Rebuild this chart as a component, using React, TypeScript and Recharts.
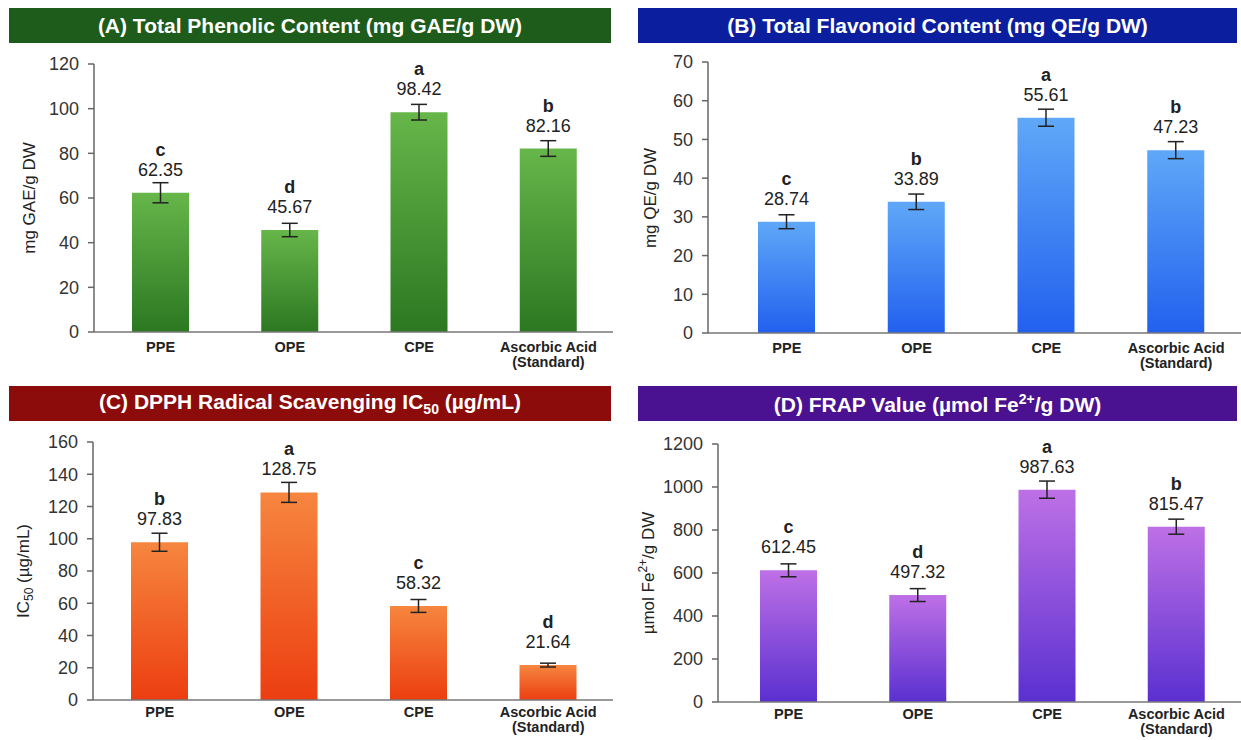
import React from "react";
import {
  BarChart,
  Bar,
  XAxis,
  YAxis,
  ErrorBar,
  LabelList,
} from "recharts";

const categories = ["PPE", "OPE", "CPE", "Ascorbic Acid\n(Standard)"];

const tpcValues = [62.35, 45.67, 98.42, 82.16];
const tpcErrors = [4.5, 3, 3.5, 3.5];
const tpcLetters = ["c", "d", "a", "b"];
const tpcTicks = [0, 20, 40, 60, 80, 100, 120];

const tfcValues = [28.74, 33.89, 55.61, 47.23];
const tfcErrors = [1.8, 2, 2.2, 2.2];
const tfcLetters = ["c", "b", "a", "b"];
const tfcTicks = [0, 10, 20, 30, 40, 50, 60, 70];

const dpphValues = [97.83, 128.75, 58.32, 21.64];
const dpphErrors = [5.6, 6.2, 4, 1.2];
const dpphLetters = ["b", "a", "c", "d"];
const dpphTicks = [0, 20, 40, 60, 80, 100, 120, 140, 160];

const frapValues = [612.45, 497.32, 987.63, 815.47];
const frapErrors = [30, 30, 40, 35];
const frapLetters = ["c", "d", "a", "b"];
const frapTicks = [0, 200, 400, 600, 800, 1000, 1200];

const FONT = '"Liberation Sans", Arial, sans-serif';

type Row = { name: string; value: number; err: number; letter: string };

function makeRows(values: number[], errors: number[], letters: string[]): Row[] {
  return categories.map((name, i) => ({
    name,
    value: values[i],
    err: errors[i],
    letter: letters[i],
  }));
}

function makeCategoryTick(firstDy: number) {
  return function CategoryTick(props: any) {
    const { x, y, payload } = props;
    const lines = String(payload.value).split("\n");
    return (
      <text
        x={x}
        y={y}
        textAnchor="middle"
        fontFamily={FONT}
        fontWeight="bold"
        fontSize={14.5}
        fill="#222"
      >
        {lines.map((line, i) => (
          <tspan key={i} x={x} dy={i === 0 ? firstDy : 15}>
            {line}
          </tspan>
        ))}
      </text>
    );
  };
}

function makeValueLabel(rows: Row[]) {
  return function ValueLabel(props: any) {
    const { x, y, width, index } = props;
    const row = rows[index];
    const cx = x + width / 2;
    return (
      <g>
        <text
          x={cx}
          y={y - 37}
          textAnchor="middle"
          fontFamily={FONT}
          fontWeight="bold"
          fontSize={18}
          fill="#222"
        >
          {row.letter}
        </text>
        <text
          x={cx}
          y={y - 17}
          textAnchor="middle"
          fontFamily={FONT}
          fontSize={18}
          fill="#222"
        >
          {row.value.toFixed(2)}
        </text>
      </g>
    );
  };
}

type PanelProps = {
  id: string;
  left: number;
  chartWidth: number;
  titleLeft: number;
  titleWidth: number;
  titleTop: number;
  titleBg: string;
  title: React.ReactNode;
  yLabel: React.ReactNode;
  yLabelX: number;
  yAxisWidth: number;
  plotTop: number;
  plotBottom: number;
  xAxisHeight: number;
  tickDy: number;
  padLeft: number;
  rows: Row[];
  ticks: number[];
  gradTop: string;
  gradBottom: string;
};

function Panel(p: PanelProps) {
  const chartTop = p.titleTop + 35;
  const marginTop = p.plotTop - chartTop;
  const chartHeight = marginTop + (p.plotBottom - p.plotTop) + p.xAxisHeight;
  const gradId = `grad-${p.id}`;
  const CategoryTick = makeCategoryTick(p.tickDy);
  return (
    <>
      <div
        style={{
          position: "absolute",
          left: p.titleLeft,
          top: p.titleTop,
          width: p.titleWidth,
          height: 35,
          background: p.titleBg,
          color: "white",
          fontFamily: FONT,
          fontWeight: "bold",
          fontSize: 21,
          display: "flex",
          alignItems: "center",
          justifyContent: "center",
          whiteSpace: "nowrap",
        }}
      >
        {p.title}
      </div>
      <div
        style={{
          position: "absolute",
          left: p.left + p.yLabelX,
          top: (p.plotTop + p.plotBottom) / 2,
          transform: "translate(-50%, -50%) rotate(-90deg)",
          fontFamily: FONT,
          fontSize: 17,
          color: "#222",
          whiteSpace: "nowrap",
        }}
      >
        {p.yLabel}
      </div>
      <div style={{ position: "absolute", left: p.left, top: chartTop }}>
        <BarChart
          width={p.chartWidth}
          height={chartHeight}
          data={p.rows}
          margin={{ top: marginTop, right: 0, bottom: 0, left: 0 }}
        >
          <defs>
            <linearGradient id={gradId} x1="0" y1="0" x2="0" y2="1">
              <stop offset="0%" stopColor={p.gradTop} />
              <stop offset="100%" stopColor={p.gradBottom} />
            </linearGradient>
          </defs>
          <XAxis
            dataKey="name"
            height={p.xAxisHeight}
            interval={0}
            tickLine={false}
            tickSize={0}
            tickMargin={0}
            padding={{ left: p.padLeft, right: 0 }}
            axisLine={{ stroke: "#777", strokeWidth: 1.5 }}
            tick={<CategoryTick />}
          />
          <YAxis
            width={p.yAxisWidth}
            domain={[0, p.ticks[p.ticks.length - 1]]}
            ticks={p.ticks}
            interval={0}
            tickSize={6}
            tickMargin={9}
            axisLine={{ stroke: "#666", strokeWidth: 1.5 }}
            tickLine={{ stroke: "#666", strokeWidth: 1.5 }}
            tick={{ fill: "#333", fontSize: 18, fontFamily: FONT }}
          />
          <Bar
            dataKey="value"
            barSize={57}
            fill={`url(#${gradId})`}
            isAnimationActive={false}
          >
            <ErrorBar
              dataKey="err"
              width={8}
              stroke="#222"
              strokeWidth={1.5}
              direction="y"
            />
            <LabelList dataKey="value" content={makeValueLabel(p.rows)} />
          </Bar>
        </BarChart>
      </div>
    </>
  );
}

export default function App() {
  return (
    <div
      style={{
        position: "relative",
        width: 1241,
        height: 740,
        background: "white",
        overflow: "hidden",
      }}
    >
      <style>{`body{margin:0}`}</style>
      <Panel
        id="a"
        left={0}
        chartWidth={613}
        titleLeft={9}
        titleWidth={602}
        titleTop={8}
        titleBg="#1d5c1b"
        title="(A) Total Phenolic Content (mg GAE/g DW)"
        yLabel="mg GAE/g DW"
        yLabelX={30}
        yAxisWidth={94}
        plotTop={64}
        plotBottom={332}
        xAxisHeight={50}
        tickDy={20}
        padLeft={2}
        rows={makeRows(tpcValues, tpcErrors, tpcLetters)}
        ticks={tpcTicks}
        gradTop="#66b64a"
        gradBottom="#2b7821"
      />
      <Panel
        id="b"
        left={620}
        chartWidth={621}
        titleLeft={638}
        titleWidth={599}
        titleTop={8}
        titleBg="#0b1e9e"
        title="(B) Total Flavonoid Content (mg QE/g DW)"
        yLabel="mg QE/g DW"
        yLabelX={31}
        yAxisWidth={88}
        plotTop={62}
        plotBottom={333}
        xAxisHeight={50}
        tickDy={20}
        padLeft={14}
        rows={makeRows(tfcValues, tfcErrors, tfcLetters)}
        ticks={tfcTicks}
        gradTop="#5fa8f8"
        gradBottom="#2260ee"
      />
      <Panel
        id="c"
        left={0}
        chartWidth={613}
        titleLeft={9}
        titleWidth={602}
        titleTop={386}
        titleBg="#8c0b0b"
        title={
          <span>
            (C) DPPH Radical Scavenging IC<sub style={{ fontSize: 14 }}>50</sub> (µg/mL)
          </span>
        }
        yLabel={
          <span>
            IC<sub style={{ fontSize: 12 }}>50</sub> (µg/mL)
          </span>
        }
        yLabelX={25}
        yAxisWidth={93}
        plotTop={442}
        plotBottom={700}
        xAxisHeight={40}
        tickDy={17}
        padLeft={2}
        rows={makeRows(dpphValues, dpphErrors, dpphLetters)}
        ticks={dpphTicks}
        gradTop="#f6863f"
        gradBottom="#ec3e10"
      />
      <Panel
        id="d"
        left={620}
        chartWidth={621}
        titleLeft={638}
        titleWidth={599}
        titleTop={386}
        titleBg="#4a1290"
        title={
          <span>
            (D) FRAP Value (µmol Fe<sup style={{ fontSize: 14 }}>2+</sup>/g DW)
          </span>
        }
        yLabel={
          <span>
            µmol Fe<sup style={{ fontSize: 12 }}>2+</sup>/g DW
          </span>
        }
        yLabelX={27}
        yAxisWidth={98}
        plotTop={444}
        plotBottom={702}
        xAxisHeight={38}
        tickDy={17}
        padLeft={6}
        rows={makeRows(frapValues, frapErrors, frapLetters)}
        ticks={frapTicks}
        gradTop="#be70e6"
        gradBottom="#5a30d0"
      />
    </div>
  );
}
